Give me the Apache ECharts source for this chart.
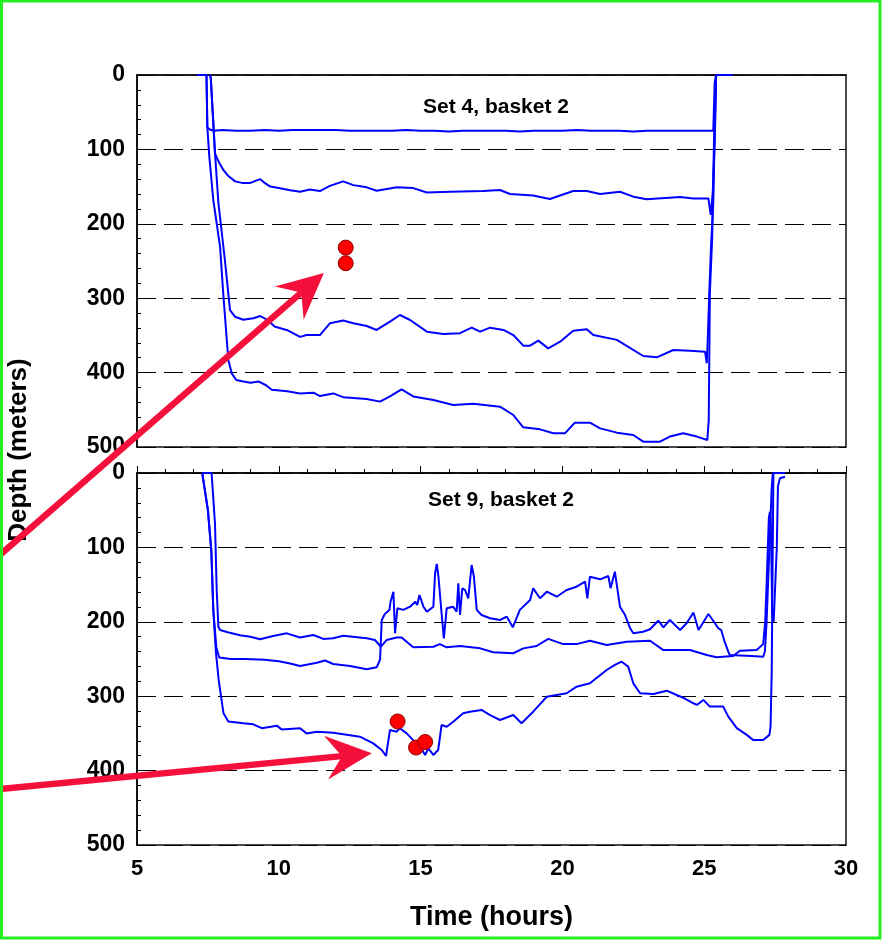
<!DOCTYPE html>
<html>
<head>
<meta charset="utf-8">
<script src="https://cdn.jsdelivr.net/npm/echarts@6/dist/echarts.min.js"></script>
<style>
html,body{margin:0;padding:0;background:#fff;}
#c{width:882px;height:941px;}
</style>
</head>
<body>
<div id="c"></div>
<script>
// ---------- data (time in hours, depth in meters) ----------
var xTicks = [5, 10, 15, 20, 25, 30];
var yTicks = [0, 100, 200, 300, 400, 500];
var panelTitles = ['Set 4, basket 2', 'Set 9, basket 2'];

var set4Hook1 = [[7.12,0],[7.45,0],[7.48,70],[7.55,73],[7.7,75],[8,74],[8.5,75],[9,75],[9.5,74],[10,75],[10.5,74],[11,74],[11.5,74],[12,74],[12.5,75],[13,75],[13.5,75],[14,75],[14.5,74],[15,75],[15.5,75],[16,76],[16.5,75],[17,75],[17.5,75],[18,75],[18.5,76],[19,75],[19.5,75],[20,75],[20.5,74],[21,75],[21.5,75],[22,75],[22.5,76],[23,75],[23.5,75],[24,75],[24.5,75],[25,75],[25.32,75],[25.37,10],[25.42,0],[26.0,0]];
var set4Hook2 = [[7.55,0],[7.6,3],[7.75,105],[7.82,112],[7.9,118],[8.05,128],[8.2,135],[8.46,143],[8.7,145],[9.0,145],[9.2,142],[9.35,140],[9.5,145],[9.7,150],[10.0,152],[10.4,155],[10.75,157],[11.1,154],[11.45,156],[11.8,149],[12.27,143],[12.63,148],[13.1,151],[13.45,155.5],[14.16,151],[14.74,152],[15.22,158],[16.04,157],[17.21,156],[17.8,154.6],[18.15,160],[18.97,162],[19.56,166.7],[20.38,156],[20.86,156],[21.33,160],[22.03,157],[22.5,163.5],[22.97,167],[24.15,164],[24.62,166],[25.15,166],[25.23,188],[25.3,159],[25.38,78],[25.42,0]];
var set4Hook3 = [[7.55,0],[7.6,3],[7.75,105],[7.87,172],[8.1,249],[8.28,316],[8.46,325],[8.75,329],[9.1,327],[9.35,324],[9.6,329],[9.85,338],[10.3,343],[10.75,352],[10.98,349.5],[11.45,349.5],[11.8,333.7],[12.27,330],[12.63,333.7],[13.1,337.4],[13.45,342.7],[13.92,331.5],[14.27,322.6],[14.63,329.3],[15.22,345],[15.8,348],[16.39,347],[16.8,339.6],[17.1,345],[17.45,339.6],[17.92,342.7],[18.27,349.5],[18.62,363.8],[18.86,363.8],[19.15,357],[19.5,367.4],[19.92,358.4],[20.38,343.7],[20.86,341.8],[21.09,349.5],[21.92,356],[22.85,377.7],[23.33,379.5],[23.91,369.6],[24.5,370.5],[25.03,371.9],[25.09,387.5],[25.12,360],[25.18,293],[25.24,231],[25.32,172],[25.38,60],[25.42,0]];
var set4Hook4 = [[7.12,0],[7.45,0],[7.48,70],[7.55,110],[7.69,168],[7.93,231],[8.04,293],[8.22,383],[8.34,401],[8.5,410],[8.75,412],[9.0,413.5],[9.3,412],[9.55,417],[9.75,423],[10.3,425],[10.75,428],[11.22,427],[11.45,431.5],[11.92,428],[12.27,433],[13.1,435.5],[13.57,439],[13.92,432],[14.33,422.5],[14.74,432],[15.45,436.8],[16.15,443.5],[16.86,442],[17.8,445.8],[18.27,457],[18.62,473.6],[19.21,476.3],[19.68,481.6],[20.09,481.6],[20.44,467.3],[20.97,467.3],[21.33,475],[21.92,480.7],[22.5,483.9],[22.85,492.8],[23.44,492.8],[23.79,486],[24.26,481.6],[24.74,486],[25.11,490.6],[25.16,464],[25.2,293],[25.28,220],[25.36,60],[25.42,0]];

var set9Hook1 = [[7.3,0],[7.63,0],[7.75,68],[7.81,157],[7.87,207],[7.93,211],[8.2,214],[8.63,218],[9.0,220],[9.34,223.5],[9.8,219],[10.28,215.5],[10.75,221],[11.22,217.7],[11.57,223],[11.92,222],[12.27,218.7],[13.1,222],[13.39,224.5],[13.6,233.5],[13.8,224.5],[14.16,221],[14.33,221],[14.74,234.3],[15.45,233.5],[15.68,230],[15.92,234.3],[16.39,232.5],[17.1,235.7],[17.56,241],[18.27,242.3],[18.62,235.7],[19.09,232.5],[19.5,223],[20.03,230],[20.5,230],[20.97,225.4],[21.56,231.2],[22.27,226.7],[23.09,225.4],[23.56,238],[24.5,238],[25.09,244.6],[25.44,247.7],[26.02,246],[26.26,239],[26.85,238],[27.08,230],[27.15,200],[27.2,150],[27.28,60],[27.32,52],[27.35,70],[27.4,190],[27.45,200],[27.52,200],[27.56,100],[27.6,18],[27.67,7],[27.85,5]];
var set9Hook2 = [[7.3,0],[7.34,0],[7.5,50],[7.62,104],[7.69,184],[7.8,235],[7.9,248],[8.3,250],[8.8,250],[9.5,251],[10.0,253],[10.4,256],[10.75,259.4],[11.34,255],[11.63,252],[11.92,256.7],[12.51,259.4],[13.1,263.9],[13.45,261.2],[13.57,251],[13.63,197.6],[13.74,189.5],[13.9,184],[13.94,173],[14.04,159.5],[14.1,215.5],[14.18,181.9],[14.39,184],[14.63,179.7],[14.81,173],[14.88,177.4],[14.96,164],[15.1,179.7],[15.22,186.4],[15.45,179.7],[15.51,134.8],[15.57,122.3],[15.63,139.4],[15.74,188.6],[15.82,222.2],[15.92,181.9],[16.15,179.7],[16.27,186.4],[16.33,148.3],[16.39,190.9],[16.47,155],[16.57,157.3],[16.68,168.4],[16.8,123.7],[16.88,139.4],[16.98,184],[17.15,190.9],[17.45,195.3],[17.8,197.6],[18.04,193.1],[18.25,207.4],[18.5,184],[18.86,170.7],[18.97,155],[19.21,168.4],[19.45,159.5],[19.8,166.3],[20.15,157.3],[20.5,152.8],[20.8,146],[20.88,168.4],[20.97,139.4],[21.33,142.9],[21.62,138.4],[21.7,155],[21.85,132.7],[22.03,179.7],[22.21,190.9],[22.39,208.7],[22.5,215.5],[22.85,213.3],[23.09,210],[23.38,198.5],[23.56,207.4],[23.79,197.6],[24.15,211],[24.38,202],[24.62,187.4],[24.8,211],[25.15,189.5],[25.5,208.7],[25.6,211],[25.72,226.7],[25.85,240],[25.9,244.6],[26.67,246],[27.08,246.9],[27.14,240],[27.2,200],[27.3,100],[27.38,20],[27.42,0]];
var set9Hook3 = [[7.3,0],[7.34,0],[7.5,50],[7.62,104],[7.69,184],[7.78,240],[7.88,278],[8.05,323],[8.22,334],[8.75,336.5],[9.1,337.8],[9.4,343],[9.93,339.6],[10.1,344.6],[10.75,343],[10.98,350],[11.34,347.7],[11.92,349],[12.86,354.4],[13.33,363.4],[13.63,372.3],[13.78,380.4],[13.92,345.4],[14.16,347.7],[14.27,343],[14.51,350],[14.74,359],[14.98,367.8],[15.16,379],[15.27,370],[15.45,379],[15.62,372.3],[15.74,338.7],[15.92,341],[16.15,334.3],[16.5,323],[16.74,320.8],[17.15,318.5],[17.45,325.3],[17.8,332],[18.27,325.3],[18.56,336.4],[18.97,320.8],[19.45,300.7],[20.15,296],[20.5,287.2],[20.97,282.7],[21.56,264.8],[21.85,258],[22.09,253.6],[22.32,260.3],[22.5,282.7],[22.74,296],[23.21,297],[23.68,292.6],[24.03,298.4],[24.3,302.8],[24.62,309.5],[24.74,311.8],[24.97,305],[25.2,314],[25.67,314],[25.85,327.5],[26.15,343],[26.5,352],[26.73,359],[27.08,359],[27.3,352],[27.34,341],[27.38,269],[27.41,135],[27.44,0],[27.85,0]];

var set4Points = [[12.36,232],[12.36,253]];
var set9Points = [[14.19,334],[14.84,369],[15.16,361.5]];

// annotation arrows: [tail, tip] in data coords of the given panel
var arrows = [
  {grid:0, tail:[0.17,645], tip:[11.59,266]},
  {grid:1, tail:[0.17,424.7], tip:[13.28,376.7]}
];

// ---------- chart ----------
var FONT = '"Liberation Sans", Arial, sans-serif';
var chart = echarts.init(document.getElementById('c'), null, {renderer:'canvas'});
var grids = [
  {left:137, top:75, width:709, height:372},
  {left:137, top:473, width:709, height:372}
];
function yAx(i){
  return {
    gridIndex:i, type:'value', inverse:true, min:yTicks[0], max:yTicks[yTicks.length-1], interval:100,
    axisLine:{show:true, lineStyle:{color:'#000', width:1.5}},
    axisTick:{show:true, inside:true, length:8, lineStyle:{color:'#000'}},
    minorTick:{show:true, splitNumber:5, length:4, lineStyle:{color:'#000'}},
    axisLabel:{color:'#000', fontFamily:FONT, fontWeight:'bold', fontSize:23, margin:12},
    splitLine:{show:true, lineStyle:{color:'#000', width:1, type:[19,8]}}
  };
}
function lineS(data, xi){
  return {type:'line', data:data, xAxisIndex:xi, yAxisIndex:xi, showSymbol:false, symbol:'none',
    lineStyle:{color:'#0000ff', width:2}, z:3, clip:true, animation:false};
}
function dotS(data, xi){
  return {type:'scatter', data:data, xAxisIndex:xi, yAxisIndex:xi, symbolSize:15,
    itemStyle:{color:'#ff0000', opacity:1, borderColor:'#8a0000', borderWidth:1}, z:5, animation:false};
}
var option = {
  animation:false,
  backgroundColor:'#ffffff',
  grid: grids.map(function(g){ return Object.assign({show:true, borderColor:'#111', borderWidth:1.5, backgroundColor:'transparent'}, g); }),
  title: [
    {text:panelTitles[0], left:491, top:92, textAlign:'center', textStyle:{fontFamily:FONT, fontWeight:'bold', fontSize:21, color:'#000'}},
    {text:panelTitles[1], left:496, top:485, textAlign:'center', textStyle:{fontFamily:FONT, fontWeight:'bold', fontSize:21, color:'#000'}}
  ],
  xAxis: [
    {gridIndex:0, type:'value', min:xTicks[0], max:xTicks[xTicks.length-1], interval:5,
     axisLine:{show:true, lineStyle:{color:'#111', width:1.5}}, axisTick:{show:false}, axisLabel:{show:false}, splitLine:{show:false}},
    {gridIndex:1, type:'value', min:xTicks[0], max:xTicks[xTicks.length-1], interval:5,
     name:'Time (hours)', nameLocation:'middle', nameGap:59,
     nameTextStyle:{fontFamily:FONT, fontWeight:'bold', fontSize:27, color:'#000'},
     axisLine:{show:true, lineStyle:{color:'#000', width:1.5}},
     axisTick:{show:true, inside:true, length:7, lineStyle:{color:'#000'}},
     minorTick:{show:true, splitNumber:5, length:4, lineStyle:{color:'#000'}},
     axisLabel:{color:'#000', fontFamily:FONT, fontWeight:'bold', fontSize:22, margin:13},
     splitLine:{show:false}}
  ],
  yAxis: [yAx(0), yAx(1)],
  series: [
    lineS(set4Hook1,0), lineS(set4Hook2,0), lineS(set4Hook3,0), lineS(set4Hook4,0),
    lineS(set9Hook1,1), lineS(set9Hook2,1), lineS(set9Hook3,1),
    dotS(set4Points,0), dotS(set9Points,1)
  ]
};
chart.setOption(option);

// overlay: arrows (positioned through the axes), axis name, frame
var ARROW = '#f5103c';
var gfx = [];
arrows.forEach(function(a){
  var T = chart.convertToPixel({gridIndex:a.grid}, a.tail);
  var P = chart.convertToPixel({gridIndex:a.grid}, a.tip);
  var dx = P[0]-T[0], dy = P[1]-T[1], len = Math.sqrt(dx*dx+dy*dy);
  var ux = dx/len, uy = dy/len, nx = -uy, ny = ux;
  var L = 46, W = 22, N = 30;
  var notch = [P[0]-N*ux, P[1]-N*uy];
  gfx.push({type:'line', z:100, shape:{x1:T[0], y1:T[1], x2:notch[0], y2:notch[1]}, style:{stroke:ARROW, lineWidth:6.5}});
  gfx.push({type:'polygon', z:101, shape:{points:[P,[P[0]-L*ux+W*nx, P[1]-L*uy+W*ny], notch, [P[0]-L*ux-W*nx, P[1]-L*uy-W*ny]]}, style:{fill:ARROW}});
});
gfx.push({type:'text', z:50, x:19, y:450, rotation:Math.PI/2,
  style:{text:'Depth (meters)', font:'bold 26px '+FONT, fill:'#000', textAlign:'center', textVerticalAlign:'middle'}});
gfx.push({type:'rect', z:200, shape:{x:1.5, y:1, width:878.5, height:937}, style:{fill:'none', stroke:'#22ee22', lineWidth:3}});
chart.setOption({graphic:gfx});
</script>
</body>
</html>
